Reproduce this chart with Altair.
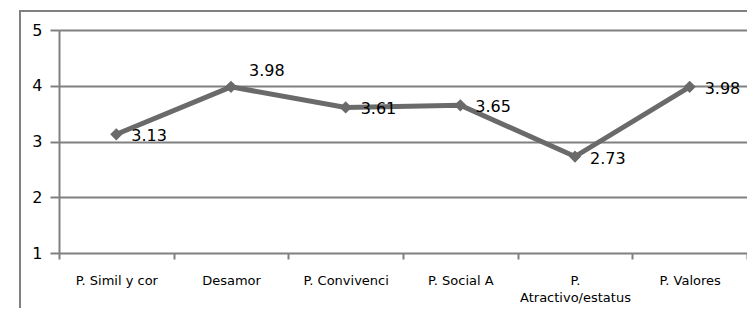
import altair as alt
import pandas as pd

categories = ["P. Simil y cor", "Desamor", "P. Convivenci", "P. Social A",
              "P. Atractivo/estatus", "P. Valores"]
values = [3.13, 3.98, 3.61, 3.65, 2.73, 3.98]
y_ticks = [1, 2, 3, 4, 5]
above_label = ["Desamor"]

df = pd.DataFrame({"cat": categories, "val": values,
                   "lab": [f"{v:.2f}" for v in values]})

FONT = "DejaVu Sans"
GRAY = "#808080"
LINE = "#6a6a6a"

x_enc = alt.X("cat:N", sort=categories,
              scale=alt.Scale(paddingInner=0, paddingOuter=0),
              axis=alt.Axis(title=None, labelAngle=0, tickBand="extent",
                            grid=False, domain=False, ticks=True,
                            tickColor=GRAY, tickWidth=2, tickSize=6,
                            labelFont=FONT, labelFontSize=13, labelColor="#000000",
                            labelPadding=15, labelLimit=200, labelLineHeight=17,
                            labelExpr="length(datum.label) > 15 ? split(datum.label, ' ') : datum.label"))
y_enc = alt.Y("val:Q", scale=alt.Scale(domain=[1, 5], nice=False, zero=False),
              axis=alt.Axis(title=None, values=y_ticks, grid=True, gridColor=GRAY,
                            gridWidth=2, gridOpacity=1, domain=True, domainColor=GRAY,
                            domainWidth=2, tickColor=GRAY, tickWidth=2, tickSize=9,
                            labelFont=FONT, labelFontSize=16, labelColor="#000000",
                            labelPadding=8, format="d"))

base = alt.Chart(df)

border = base.mark_rect(fill=None, stroke=GRAY, strokeWidth=2, clip=False).encode(
    x=alt.value(-39), x2=alt.value(760), y=alt.value(-19), y2=alt.value(400)
).transform_filter(alt.datum.cat == categories[0])

line = base.mark_line(color=LINE, strokeWidth=5).encode(x=x_enc, y=y_enc)
pts = base.mark_point(shape="diamond", filled=True, size=150, color=LINE, opacity=1).encode(
    x=alt.X("cat:N", sort=categories), y="val:Q")

lab_right = base.transform_filter(
    ~alt.FieldOneOfPredicate(field="cat", oneOf=above_label)
).mark_text(align="left", baseline="middle", dx=15, dy=2, font=FONT,
            fontSize=16, color="#000000").encode(
    x=alt.X("cat:N", sort=categories), y="val:Q", text="lab:N")

lab_above = base.transform_filter(
    alt.FieldOneOfPredicate(field="cat", oneOf=above_label)
).mark_text(align="left", baseline="middle", dx=18, dy=-16, font=FONT,
            fontSize=16, color="#000000").encode(
    x=alt.X("cat:N", sort=categories), y="val:Q", text="lab:N")

chart = alt.layer(border, line, pts, lab_right, lab_above).properties(
    width=688, height=223,
    autosize=alt.AutoSizeParams(type="none"),
    padding={"left": 51, "top": 22, "right": 0, "bottom": 55},
).configure_view(stroke=None).configure(background="#ffffff")

chart.save("out.html", embed_options={"renderer": "svg", "actions": False})
